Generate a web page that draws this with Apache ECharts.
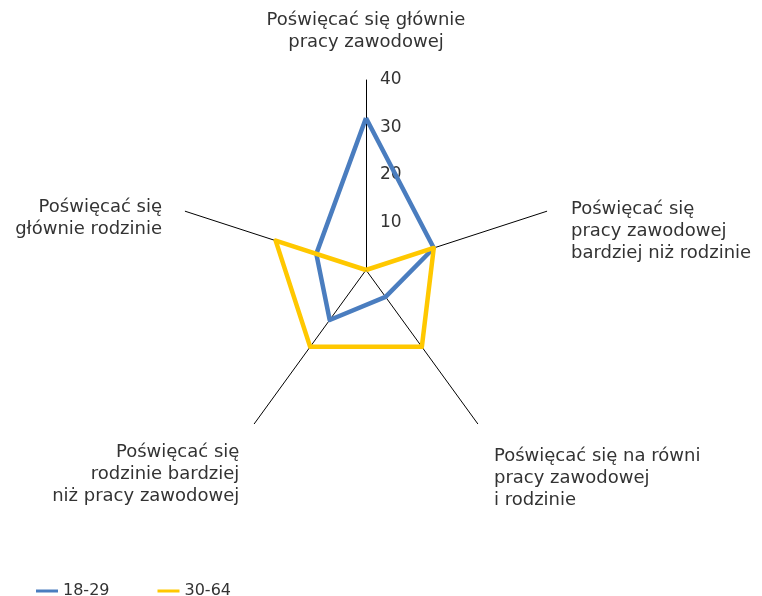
<!DOCTYPE html>
<html>
<head>
<meta charset="utf-8">
<script src="https://cdn.jsdelivr.net/npm/echarts@6/dist/echarts.min.js"></script>
<style>
  html, body { margin: 0; padding: 0; background: #fff; }
  #chart { width: 762px; height: 596px; }
</style>
</head>
<body>
<div id="chart"></div>
<script>
// kategorie w kolejnosci osi (od gory, przeciwnie do wskazowek zegara)
var categories = [
  'Poświęcać się głównie\npracy zawodowej',
  'Poświęcać się\ngłównie rodzinie',
  'Poświęcać się\nrodzinie bardziej\nniż pracy zawodowej',
  'Poświęcać się na równi\npracy zawodowej\ni rodzinie',
  'Poświęcać się\npracy zawodowej\nbardziej niż rodzinie'
];
var seriesNames = ['18-29', '30-64'];
var values1829 = [32, 11, 13, 7, 15];
var values3064 = [0, 20, 20, 20, 15];
var axisMax = 40;

var chart = echarts.init(document.getElementById('chart'));
var font = '"DejaVu Sans", sans-serif';

// odstep nazwy od konca osi + przesuniecie w dol (jak w Excelu)
var nameGaps = [27, 24.5, 25.5, 27.7, 25.5];
var nameShift = [0, 29, 59, 64, 55];

var indicators = categories.map(function (name, i) {
  var ind = { name: name, min: 0, max: axisMax, nameGap: nameGaps[i] };
  if (i > 0) ind.axisLabel = { show: false };
  return ind;
});

chart.setOption({
  backgroundColor: '#fff',
  animation: false,
  color: ['#4a7dbf', '#ffc800'],
  legend: {
    left: 31,
    top: 578,
    icon: 'rect',
    itemWidth: 22,
    itemHeight: 3,
    itemGap: 48,
    textStyle: { fontFamily: font, fontSize: 16, color: '#333' },
    data: seriesNames
  },
  radar: {
    center: [366, 270],
    radius: 190,
    startAngle: 90,
    splitNumber: 4,
    shape: 'polygon',
    axisName: {
      fontFamily: font,
      fontSize: 18,
      color: '#333',
      lineHeight: 22,
      formatter: function (name) {
        var i = categories.indexOf(name);
        if (!nameShift[i]) return name;
        var s = 's' + i;
        return '{' + s + '| }\n' + name;
      },
      rich: {
        s1: { fontSize: 4, lineHeight: nameShift[1] },
        s2: { fontSize: 4, lineHeight: nameShift[2] },
        s3: { fontSize: 4, lineHeight: nameShift[3] },
        s4: { fontSize: 4, lineHeight: nameShift[4] }
      }
    },
    axisLine: { lineStyle: { color: '#000', width: 1 } },
    axisTick: { show: false },
    axisLabel: {
      show: true,
      showMinLabel: false,
      fontFamily: font,
      fontSize: 17,
      color: '#333',
      margin: -14,
      align: 'left'
    },
    splitLine: { show: false },
    splitArea: { show: false },
    indicator: indicators
  },
  series: [{
    type: 'radar',
    symbol: 'none',
    lineStyle: { width: 4.5 },
    data: [
      { name: seriesNames[0], value: values1829 },
      { name: seriesNames[1], value: values3064 }
    ]
  }]
});
</script>
</body>
</html>
